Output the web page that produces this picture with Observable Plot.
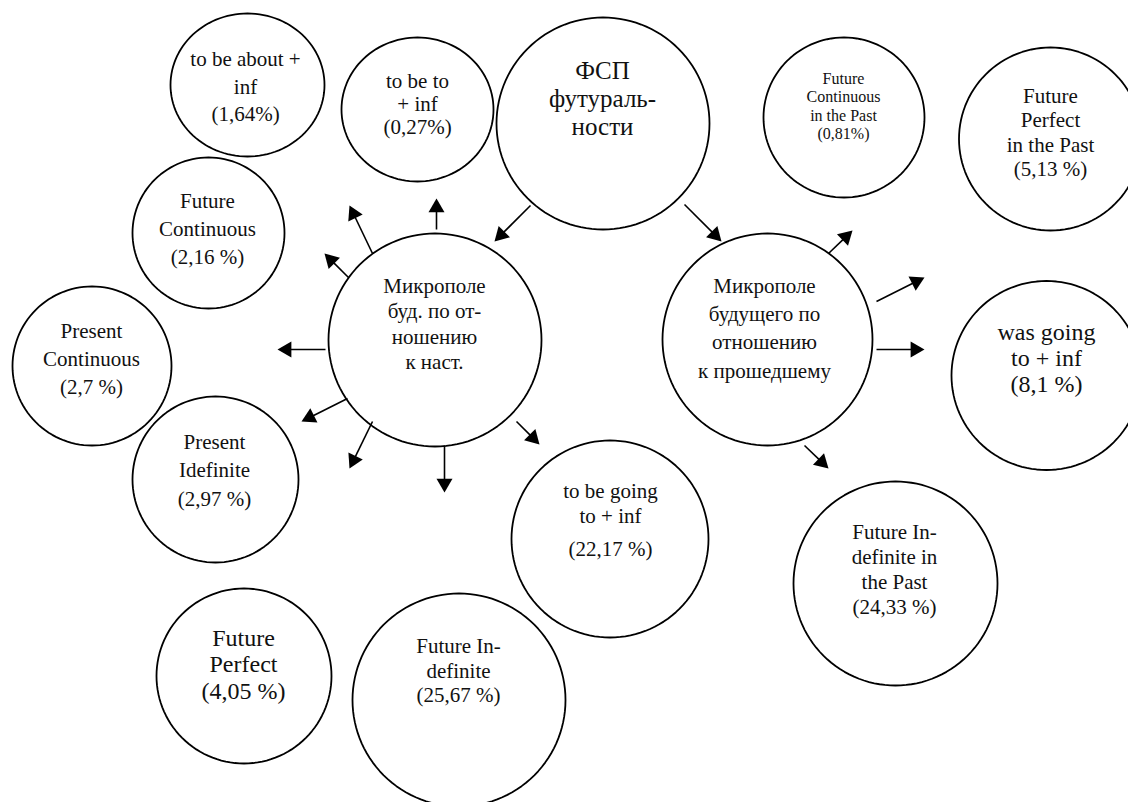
<!DOCTYPE html>
<html><head><meta charset="utf-8">
<script src="https://cdn.jsdelivr.net/npm/d3@7"></script>
<script src="https://cdn.jsdelivr.net/npm/@observablehq/plot@0.6"></script>
<style>
html,body{margin:0;padding:0;background:#fff;overflow:hidden}
#chart svg{display:block}
#chart svg text{font-family:"Liberation Serif","DejaVu Serif",serif !important}
</style>
</head><body><div id="chart"></div>
<script>
// ---- node labels (text of each circle) ----
const nodeLines = [
  ["to be about +", "inf", "(1,64%)"],
  ["to be to", "+ inf", "(0,27%)"],
  ["ФСП", "футураль-", "ности"],
  ["Future", "Continuous", "in the Past", "(0,81%)"],
  ["Future", "Perfect", "in the Past", "(5,13 %)"],
  ["Future", "Continuous", "(2,16 %)"],
  ["Present", "Continuous", "(2,7 %)"],
  ["Микрополе", "буд. по от-", "ношению", "к наст."],
  ["Микрополе", "будущего по", "отношению", "к прошедшему"],
  ["was going", "to + inf", "(8,1 %)"],
  ["Present", "Idefinite", "(2,97 %)"],
  ["to be going", "to + inf", "(22,17 %)"],
  ["Future In-", "definite in", "the Past", "(24,33 %)"],
  ["Future", "Perfect", "(4,05 %)"],
  ["Future In-", "definite", "(25,67 %)"]
];
// ---- layout of the circles (same order as nodeLines) ----
const nodeCx = [247, 417, 602.5, 843.5, 1050, 208, 91.5, 434.5, 767, 1046, 215, 609.5, 895, 243.5, 458.5];
const nodeCy = [84.5, 109, 123, 117, 138.5, 232.5, 365.5, 339.5, 339, 375, 479, 538.5, 583, 675.5, 699.5];
const nodeRx = [77, 76, 106.5, 80.5, 91.5, 76, 79.5, 106.5, 105, 95, 83, 98.5, 102, 87.5, 106.5];
const nodeRy = [71.5, 72, 106, 80, 91.5, 75.5, 79.5, 106.5, 106, 94.5, 83, 98.5, 102, 87.5, 106.5];
const nodeTextX = [245, 417, 602, 843, 1050, 207, 91, 434, 764, 1046, 214, 610, 894, 243, 458];
const nodeBaselines = [
  [65, 93, 120], [87, 110, 133], [78, 106, 134], [83, 101.5, 120, 138.5],
  [102, 126.5, 151, 175], [207, 235, 263], [337, 365, 393],
  [292, 317.5, 343, 368.5], [292, 320, 348, 377], [339, 365, 391], [448, 476.5, 505],
  [497, 522, 555], [538, 563, 588, 613], [645, 671, 698], [652, 677, 701]
];
const nodeFont = [21, 21, 25, 16, 21, 21, 21, 21, 21, 24, 21, 21, 21, 24, 21];
// ---- arrows: start point and tip ----
const arrowFrom = [[530,205],[684,204],[436,229],[372,253],[348,277],[325,349],[347,398],[372,421],[444,445],[516,421],[828,253],[876,301],[876,349],[804,445]];
const arrowTo   = [[494,241],[721,241],[436,198],[349,205],[324,253],[277,349],[301,421],[349,468],[444,492],[539,444],[852,230],[924,277],[924,349],[828,468]];

// ---- derived tables ----
const outline = [];
nodeCx.forEach((cx, i) => {
  const N = 120;
  for (let k = 0; k < N; k++) {
    const t = 2 * Math.PI * k / N;
    outline.push({id: i, x: cx + nodeRx[i] * Math.cos(t), y: nodeCy[i] + nodeRy[i] * Math.sin(t)});
  }
});
const textRows = [];
nodeLines.forEach((lines, i) => lines.forEach((s, j) =>
  textRows.push({text: s, x: nodeTextX[i], y: nodeBaselines[i][j], size: nodeFont[i]})));

const HEAD_S = 16, HEAD_H = HEAD_S * Math.sqrt(3) / 2;
const HEAD_R = Math.sqrt((Math.sqrt(3) / 4 * HEAD_S * HEAD_S) / Math.PI);
const arrows = arrowFrom.map((f, i) => {
  const t = arrowTo[i];
  const dx = t[0] - f[0], dy = t[1] - f[1];
  const L = Math.hypot(dx, dy), ux = dx / L, uy = dy / L;
  return {
    x1: f[0], y1: f[1],
    x2: t[0] - ux * HEAD_H * 0.9, y2: t[1] - uy * HEAD_H * 0.9,
    hx: t[0] - ux * HEAD_H * 2 / 3, hy: t[1] - uy * HEAD_H * 2 / 3,
    angle: Math.atan2(dx, -dy) * 180 / Math.PI
  };
});

const chart = Plot.plot({
  width: 1128, height: 802, margin: 0,
  x: {domain: [0, 1128], range: [0, 1128], axis: null},
  y: {domain: [0, 802], range: [0, 802], axis: null},
  style: {background: "white", fontFamily: "Liberation Serif, serif"},
  marks: [
    Plot.line(outline, {x: "x", y: "y", z: "id", curve: "linear-closed", stroke: "black", strokeWidth: 1.8}),
    Plot.link(arrows, {x1: "x1", y1: "y1", x2: "x2", y2: "y2", stroke: "black", strokeWidth: 1.6}),
    Plot.dot(arrows, {x: "hx", y: "hy", symbol: "triangle", r: HEAD_R, rotate: "angle", fill: "black", stroke: "none"}),
    Plot.text(textRows, {x: "x", y: "y", text: "text", fontSize: "size", lineAnchor: "bottom", textAnchor: "middle",
      fill: "#111", fontFamily: "Liberation Serif, serif"})
  ]
});
document.getElementById("chart").appendChild(chart);
</script>
</body></html>
